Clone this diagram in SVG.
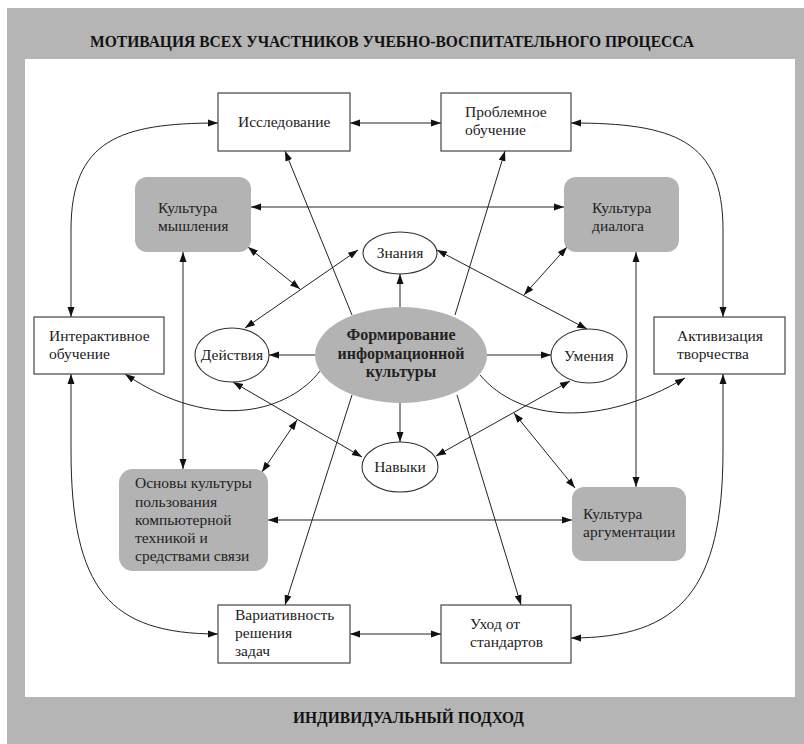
<svg xmlns="http://www.w3.org/2000/svg" width="804" height="744" viewBox="0 0 804 744">
<defs>
<marker id="ah" viewBox="0 0 10 8" refX="10" refY="4" markerWidth="10" markerHeight="8" markerUnits="userSpaceOnUse" orient="auto-start-reverse">
<path d="M0,0.5 L10,4 L0,7.5 z" fill="#111"/>
</marker>
<style>
.box{fill:#fff;stroke:#444;stroke-width:1.2}
.gbox{fill:#b3b3b3;stroke:none}
.ell{fill:#fff;stroke:#333;stroke-width:1.1}
.t{font-family:"Liberation Serif","Times New Roman","DejaVu Serif",serif;font-size:15.5px;fill:#222}
.tc{font-family:"Liberation Serif","Times New Roman","DejaVu Serif",serif;font-size:15.5px;fill:#222;text-anchor:middle}
.hd{font-family:"Liberation Serif","Times New Roman","DejaVu Serif",serif;font-size:17px;font-weight:bold;fill:#111}
.cb{font-family:"Liberation Serif","Times New Roman","DejaVu Serif",serif;font-size:16px;font-weight:bold;fill:#222;text-anchor:middle}
.c{fill:none;stroke:#222;stroke-width:1}
.b{marker-start:url(#ah);marker-end:url(#ah)}
.e{marker-end:url(#ah)}
</style>
</defs>
<rect x="7" y="8" width="797" height="736" fill="#b5b5b5"/>
<rect x="25" y="59" width="770" height="638" fill="#fff"/>
<text class="hd" x="90" y="47" textLength="604" lengthAdjust="spacingAndGlyphs">МОТИВАЦИЯ ВСЕХ УЧАСТНИКОВ УЧЕБНО-ВОСПИТАТЕЛЬНОГО ПРОЦЕССА</text>
<text class="hd" x="293" y="723" textLength="231" lengthAdjust="spacingAndGlyphs">ИНДИВИДУАЛЬНЫЙ ПОДХОД</text>

<g id="connectors">
<path class="c b" d="M350,123 L441,123"/>
<path class="c b" d="M350,634 L441,634"/>
<path class="c b" d="M251,207 L564,207"/>
<path class="c b" d="M268,520 L572,520"/>
<path class="c b" d="M183,252 L183,469"/>
<path class="c b" d="M636,252 L636,487"/>
<path class="c b" d="M218,123 C120,123 71,140 71,230 L71,317"/>
<path class="c b" d="M571,123 C674,123 723,140 723,230 L723,317"/>
<path class="c b" d="M71,374 L71,450 C71,590 110,634 218,634"/>
<path class="c b" d="M723,374 L723,450 C723,590 680,638 571,638"/>
<path class="c e" d="M400,307 L400,274"/>
<path class="c e" d="M400,403 L400,442"/>
<path class="c e" d="M315,355 L269,355"/>
<path class="c e" d="M487,355 L551,355"/>
<path class="c e" d="M352,315 L285,151"/>
<path class="c e" d="M455,315 L505,151"/>
<path class="c e" d="M352,395 L285,605"/>
<path class="c e" d="M457,395 L521,605"/>
<path class="c e" d="M320,371 C290,410 215,435 125,374"/>
<path class="c e" d="M480,375 C520,422 600,428 685,378"/>
<path class="c b" d="M248,247 L300,289"/>
<path class="c b" d="M358,250 L245,328"/>
<path class="c b" d="M437,250 L587,329"/>
<path class="c b" d="M567,247 L524,295"/>
<path class="c b" d="M233,382 L362,457"/>
<path class="c b" d="M570,381 L436,456"/>
<path class="c b" d="M262,472 L297,420"/>
<path class="c b" d="M575,488 L514,413"/>
</g>

<g id="issledovanie">
<rect class="box" x="218" y="93" width="132" height="58"/>
<text class="t" x="238" y="127">Исследование</text>
</g>
<g id="problemnoe">
<rect class="box" x="441" y="93" width="130" height="58"/>
<text class="t" x="465" y="117">Проблемное</text>
<text class="t" x="465" y="135">обучение</text>
</g>
<g id="kultura-myshleniya">
<rect class="gbox" x="135" y="177" width="116" height="75" rx="12"/>
<text class="t" x="158" y="213">Культура</text>
<text class="t" x="158" y="231">мышления</text>
</g>
<g id="kultura-dialoga">
<rect class="gbox" x="564" y="177" width="115" height="75" rx="12"/>
<text class="t" x="592" y="213">Культура</text>
<text class="t" x="592" y="231">диалога</text>
</g>
<g id="znaniya">
<ellipse class="ell" cx="400" cy="253" rx="37" ry="21"/>
<text class="tc" x="400" y="258">Знания</text>
</g>
<g id="deystviya">
<ellipse class="ell" cx="232" cy="355" rx="37" ry="27"/>
<text class="tc" x="232" y="360">Действия</text>
</g>
<g id="umeniya">
<ellipse class="ell" cx="589" cy="356" rx="38" ry="27"/>
<text class="tc" x="589" y="361">Умения</text>
</g>
<g id="navyki">
<ellipse class="ell" cx="400" cy="467" rx="38" ry="25"/>
<text class="tc" x="400" y="472">Навыки</text>
</g>
<g id="center">
<ellipse cx="401" cy="355" rx="86" ry="48" fill="#b3b3b3"/>
<text class="cb" x="401" y="340">Формирование</text>
<text class="cb" x="401" y="359">информационной</text>
<text class="cb" x="401" y="377">культуры</text>
</g>
<g id="interaktivnoe">
<rect class="box" x="34" y="317" width="130" height="57"/>
<text class="t" x="49" y="341">Интерактивное</text>
<text class="t" x="49" y="359">обучение</text>
</g>
<g id="aktivizaciya">
<rect class="box" x="654" y="317" width="131" height="57"/>
<text class="t" x="677" y="341">Активизация</text>
<text class="t" x="677" y="359">творчества</text>
</g>
<g id="osnovy">
<rect class="gbox" x="119" y="469" width="149" height="102" rx="14"/>
<text class="t" x="135" y="488">Основы культуры</text>
<text class="t" x="135" y="507">пользования</text>
<text class="t" x="135" y="525">компьютерной</text>
<text class="t" x="135" y="543">техникой и</text>
<text class="t" x="135" y="561">средствами связи</text>
</g>
<g id="argumentacii">
<rect class="gbox" x="572" y="487" width="114" height="74" rx="12"/>
<text class="t" x="583" y="519">Культура</text>
<text class="t" x="583" y="537">аргументации</text>
</g>
<g id="variativnost">
<rect class="box" x="218" y="605" width="132" height="58"/>
<text class="t" x="235" y="620">Вариативность</text>
<text class="t" x="235" y="638">решения</text>
<text class="t" x="235" y="656">задач</text>
</g>
<g id="uhod">
<rect class="box" x="441" y="605" width="130" height="58"/>
<text class="t" x="470" y="629">Уход от</text>
<text class="t" x="470" y="647">стандартов</text>
</g>
</svg>
